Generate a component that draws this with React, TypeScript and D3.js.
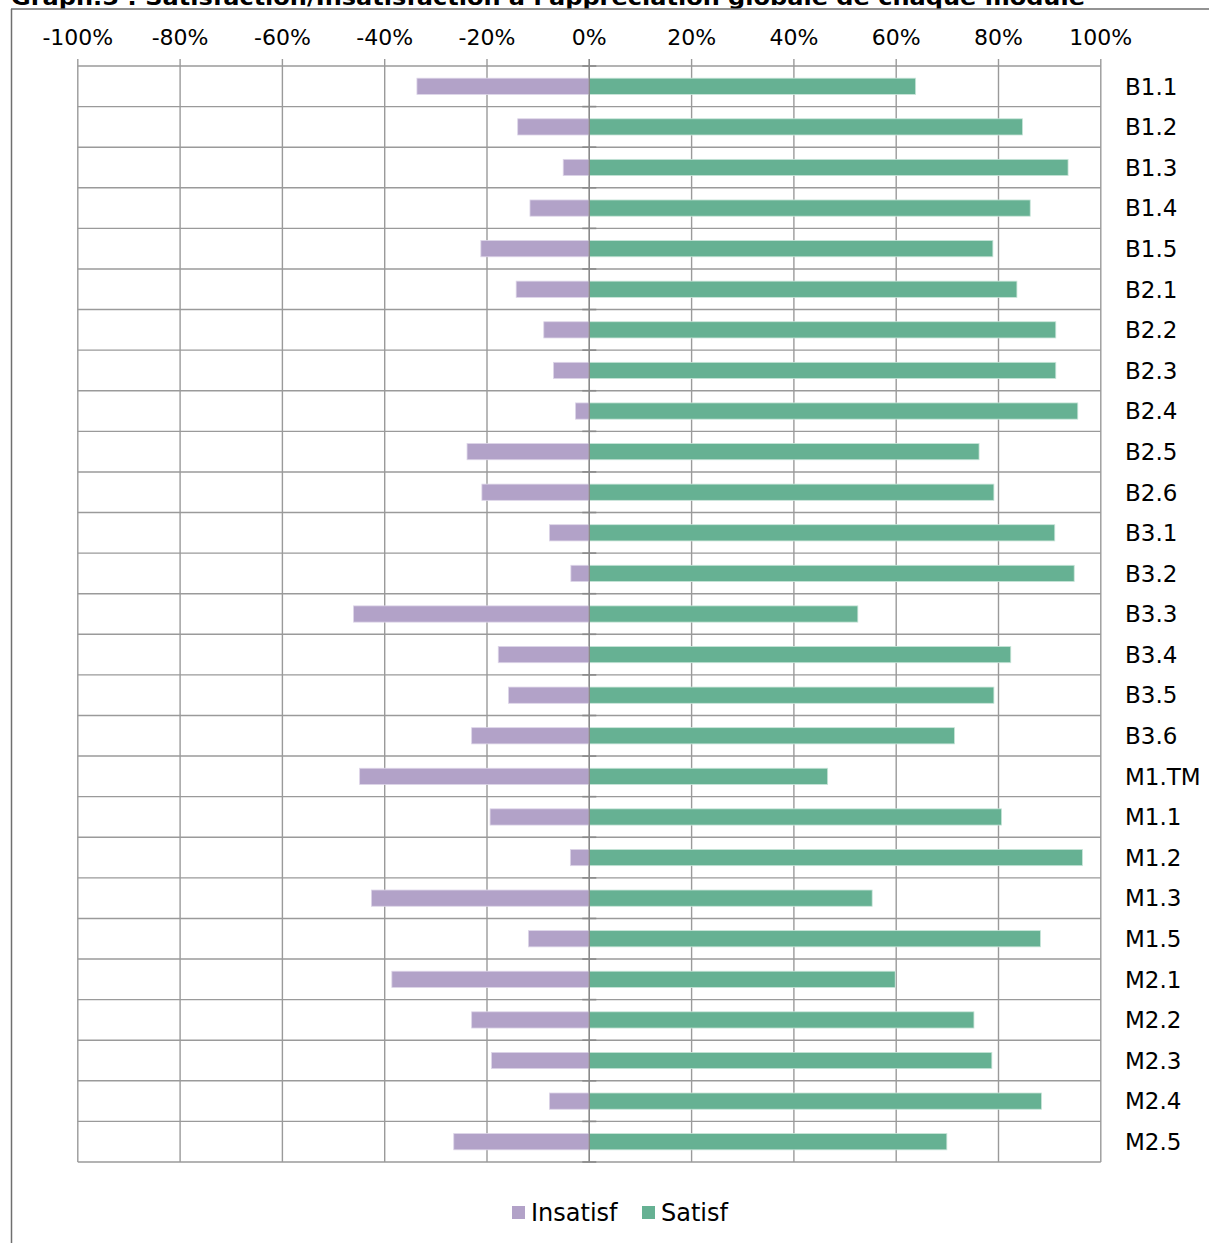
import React, { useEffect, useRef } from 'react';
import * as d3 from 'd3';

const categories = [
  'B1.1', 'B1.2', 'B1.3', 'B1.4', 'B1.5',
  'B2.1', 'B2.2', 'B2.3', 'B2.4', 'B2.5', 'B2.6',
  'B3.1', 'B3.2', 'B3.3', 'B3.4', 'B3.5', 'B3.6',
  'M1.TM', 'M1.1', 'M1.2', 'M1.3', 'M1.5',
  'M2.1', 'M2.2', 'M2.3', 'M2.4', 'M2.5',
];

// part des insatisfaits (affichée en négatif)
const insatisf = [
  -33.7, -14.0, -5.1, -11.6, -21.2,
  -14.3, -8.9, -7.0, -2.7, -23.9, -21.0,
  -7.8, -3.6, -46.1, -17.8, -15.8, -23.0,
  -44.9, -19.4, -3.7, -42.6, -11.9,
  -38.6, -23.0, -19.1, -7.8, -26.5,
];

// part des satisfaits
const satisf = [
  63.8, 84.7, 93.6, 86.2, 78.9,
  83.6, 91.2, 91.2, 95.5, 76.2, 79.1,
  91.0, 94.8, 52.5, 82.4, 79.1, 71.4,
  46.6, 80.6, 96.4, 55.3, 88.2,
  59.8, 75.2, 78.7, 88.4, 69.9,
];

const tickValues = [-100, -80, -60, -40, -20, 0, 20, 40, 60, 80, 100];
const seriesNames = ['Insatisf', 'Satisf'];
const seriesColors = ['#b2a2c8', '#66b193'];

const title = "Graph.5 : Satisfaction/Insatisfaction à l'appréciation globale de chaque module";

const App = () => {
  const svgRef = useRef(null);

  useEffect(() => {
    const svg = d3.select(svgRef.current);
    svg.selectAll('*').remove();

    const width = 1209;
    const height = 1243;
    const font = 'DejaVu Sans, Verdana, sans-serif';
    const gridColor = '#9a9a9a';

    const x = d3.scaleLinear().domain([-100, 100]).range([77.8, 1100.8]);
    const y = d3.scaleBand<string>()
      .domain(categories)
      .range([66, 1162])
      .paddingInner(0.6)
      .paddingOuter(0.3);
    const step = y.step();

    svg.append('rect').attr('width', width).attr('height', height).attr('fill', '#fff');

    // titre (coupé en haut, comme dans le document)
    svg.append('text')
      .attr('x', 11)
      .attr('y', 5)
      .attr('font-family', font)
      .attr('font-weight', 'bold')
      .attr('font-size', 22)
      .attr('textLength', 1074)
      .attr('lengthAdjust', 'spacingAndGlyphs')
      .attr('fill', '#000')
      .text(title);

    // cadre
    svg.append('line').attr('x1', 11).attr('x2', width).attr('y1', 9).attr('y2', 9)
      .attr('stroke', '#6f6f6f').attr('stroke-width', 1.5);
    svg.append('line').attr('x1', 11.5).attr('x2', 11.5).attr('y1', 9).attr('y2', height)
      .attr('stroke', '#6f6f6f').attr('stroke-width', 1.5);

    const [top, bottom] = y.range();

    // grille verticale + graduations
    svg.append('g')
      .selectAll('line')
      .data(tickValues)
      .join('line')
      .attr('x1', d => x(d)).attr('x2', d => x(d))
      .attr('y1', top - 7).attr('y2', bottom)
      .attr('stroke', gridColor).attr('stroke-width', 1.4);

    // grille horizontale
    const rowEdges = d3.range(categories.length + 1).map(i => top + i * step);
    svg.append('g')
      .selectAll('line')
      .data(rowEdges)
      .join('line')
      .attr('x1', x(-100)).attr('x2', x(100))
      .attr('y1', d => d).attr('y2', d => d)
      .attr('stroke', gridColor).attr('stroke-width', 1.4);

    // étiquettes de l'axe du haut
    svg.append('g')
      .selectAll('text')
      .data(tickValues)
      .join('text')
      .attr('x', d => x(d))
      .attr('y', 45)
      .attr('text-anchor', 'middle')
      .attr('font-family', font)
      .attr('font-size', 22)
      .attr('fill', '#000')
      .text(d => `${d}%`);

    // barres
    const bars = svg.append('g');
    [insatisf, satisf].forEach((values, s) => {
      bars.selectAll(`rect.s${s}`)
        .data(values)
        .join('rect')
        .attr('class', `s${s}`)
        .attr('x', d => x(Math.min(0, d)))
        .attr('y', (_, i) => y(categories[i]))
        .attr('width', d => Math.abs(x(d) - x(0)))
        .attr('height', y.bandwidth())
        .attr('fill', seriesColors[s])
        .attr('stroke', s === 0 ? '#ddd5e8' : '#c9e5d9')
        .attr('stroke-width', 0.8);
    });

    // axe vertical au zéro + petites graduations
    svg.append('line')
      .attr('x1', x(0)).attr('x2', x(0))
      .attr('y1', top - 7).attr('y2', bottom)
      .attr('stroke', '#8a8a8a').attr('stroke-width', 1.4);
    svg.append('g')
      .selectAll('line')
      .data(rowEdges)
      .join('line')
      .attr('x1', x(0) - 7).attr('x2', x(0) + 7)
      .attr('y1', d => d).attr('y2', d => d)
      .attr('stroke', '#8a8a8a').attr('stroke-width', 1.6);

    // étiquettes des modules
    svg.append('g')
      .selectAll('text')
      .data(categories)
      .join('text')
      .attr('x', 1125)
      .attr('y', d => y(d) + y.bandwidth() / 2)
      .attr('dy', '0.36em')
      .attr('font-family', font)
      .attr('font-size', 23)
      .attr('fill', '#000')
      .text(d => d);

    // légende
    const legendX = [512, 642];
    const legend = svg.append('g');
    seriesNames.forEach((name, i) => {
      legend.append('rect')
        .attr('x', legendX[i]).attr('y', 1206)
        .attr('width', 13).attr('height', 13)
        .attr('fill', seriesColors[i]);
      legend.append('text')
        .attr('x', legendX[i] + 19)
        .attr('y', 1221)
        .attr('font-family', font)
        .attr('font-size', 24)
        .attr('fill', '#000')
        .text(name);
    });
  }, []);

  return (
    <svg
      ref={svgRef}
      width={1209}
      height={1243}
      style={{ position: 'absolute', left: 0, top: 0, display: 'block' }}
    />
  );
};

export default App;
